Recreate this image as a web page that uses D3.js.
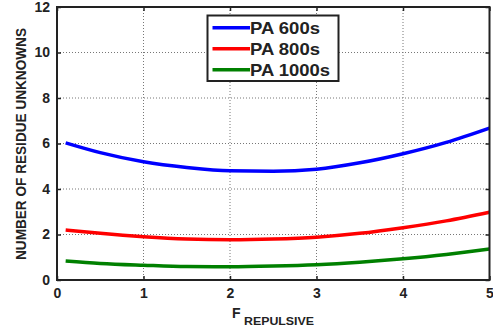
<!DOCTYPE html>
<html><head><meta charset="utf-8">
<script src="https://cdn.jsdelivr.net/npm/d3@7"></script>
<style>body{margin:0;background:#fff}svg{display:block}text{font-family:"Liberation Sans",Arial,sans-serif;font-weight:bold;fill:#222}</style>
</head><body><svg id="c" width="493" height="330"></svg>
<script>
const xs = [0.1, 0.5, 1, 1.5, 2, 2.5, 3, 3.5, 4, 4.5, 5];
const pa600 = [6.03, 5.6, 5.2, 4.95, 4.8, 4.78, 4.87, 5.15, 5.55, 6.05, 6.68];
const pa800 = [2.2, 2.05, 1.9, 1.8, 1.77, 1.8, 1.88, 2.05, 2.3, 2.6, 2.98];
const pa1000 = [0.84, 0.73, 0.65, 0.59, 0.58, 0.61, 0.67, 0.78, 0.93, 1.12, 1.36];
const seriesNames = ["PA 600s", "PA 800s", "PA 1000s"];
const seriesColors = ["#0000ff", "#ff0000", "#008000"];
const xTicks = [0, 1, 2, 3, 4, 5];
const yTicks = [0, 2, 4, 6, 8, 10, 12];

const svg = d3.select("#c");
const L = 57, R = 489.5, T = 7, B = 280;
const x = d3.scaleLinear().domain([0, 5]).range([L, R]);
const y = d3.scaleLinear().domain([0, 12]).range([B, T]);

// grid
const g = svg.append("g");
g.selectAll(".vx").data(xTicks.slice(1, -1)).enter().append("line")
  .attr("x1", d => x(d)).attr("x2", d => x(d)).attr("y1", T).attr("y2", B)
  .attr("stroke", "#777").attr("stroke-width", 1).attr("stroke-dasharray", "1,2");
g.selectAll(".hy").data(yTicks.slice(1, -1)).enter().append("line")
  .attr("y1", d => y(d)).attr("y2", d => y(d)).attr("x1", L).attr("x2", R)
  .attr("stroke", "#777").attr("stroke-width", 1).attr("stroke-dasharray", "1,2");

// axes
const xb = svg.append("g").attr("transform", `translate(0,${B})`)
  .call(d3.axisBottom(x).tickValues(xTicks).tickSize(-4).tickPadding(8).tickFormat(d3.format("d")));
const xt = svg.append("g").attr("transform", `translate(0,${T})`)
  .call(d3.axisTop(x).tickValues(xTicks).tickSize(-4).tickFormat(""));
const yl = svg.append("g").attr("transform", `translate(${L},0)`)
  .call(d3.axisLeft(y).tickValues(yTicks).tickSize(-4).tickPadding(7).tickFormat(d3.format("d")));
const yr = svg.append("g").attr("transform", `translate(${R},0)`)
  .call(d3.axisRight(y).tickValues(yTicks).tickSize(-4).tickFormat(""));
[xb, xt, yl, yr].forEach(a => {
  a.select(".domain").remove();
  a.selectAll(".tick line").attr("stroke", "#222").attr("stroke-width", 1.5);
  a.selectAll("text").style("font-size", "14px").attr("fill", "#222");
});

// lines
const all = [pa600, pa800, pa1000];
const line = d3.line().x((d, i) => x(xs[i])).y(d => y(d)).curve(d3.curveMonotoneX);
all.forEach((s, k) => {
  svg.append("path").datum(s).attr("d", line).attr("fill", "none")
    .attr("stroke", seriesColors[k]).attr("stroke-width", 3.5).attr("stroke-linecap", "butt");
});

// frame
svg.append("rect").attr("x", L).attr("y", T).attr("width", R - L).attr("height", B - T)
  .attr("fill", "none").attr("stroke", "#222").attr("stroke-width", 2);

// legend
const legendLens = [70, 70, 80];
const lg = svg.append("g");
lg.append("rect").attr("x", 207.5).attr("y", 15.5).attr("width", 131).attr("height", 65.5)
  .attr("fill", "#fff").attr("stroke", "#222").attr("stroke-width", 2);
seriesNames.forEach((n, k) => {
  const yy = 27.7 + k * 21;
  lg.append("line").attr("x1", 212.5).attr("x2", 250).attr("y1", yy).attr("y2", yy)
    .attr("stroke", seriesColors[k]).attr("stroke-width", 3.5);
  lg.append("text").attr("x", 250).attr("y", yy + 6).style("font-size", "17px")
    .attr("textLength", legendLens[k]).attr("lengthAdjust", "spacingAndGlyphs").text(n);
});

// axis labels
svg.append("text").attr("transform", "translate(26,144) rotate(-90)")
  .attr("text-anchor", "middle").style("font-size", "14.5px")
  .attr("textLength", 232).attr("lengthAdjust", "spacingAndGlyphs").text("NUMBER OF RESIDUE UNKNOWNS");
const xl = svg.append("text").attr("x", 232).attr("y", 318).style("font-size", "14px");
xl.append("tspan").text("F");
xl.append("tspan").attr("x", 244).attr("y", 325).style("font-size", "10px")
  .attr("textLength", 70).attr("lengthAdjust", "spacingAndGlyphs").text("REPULSIVE");
</script></body></html>
